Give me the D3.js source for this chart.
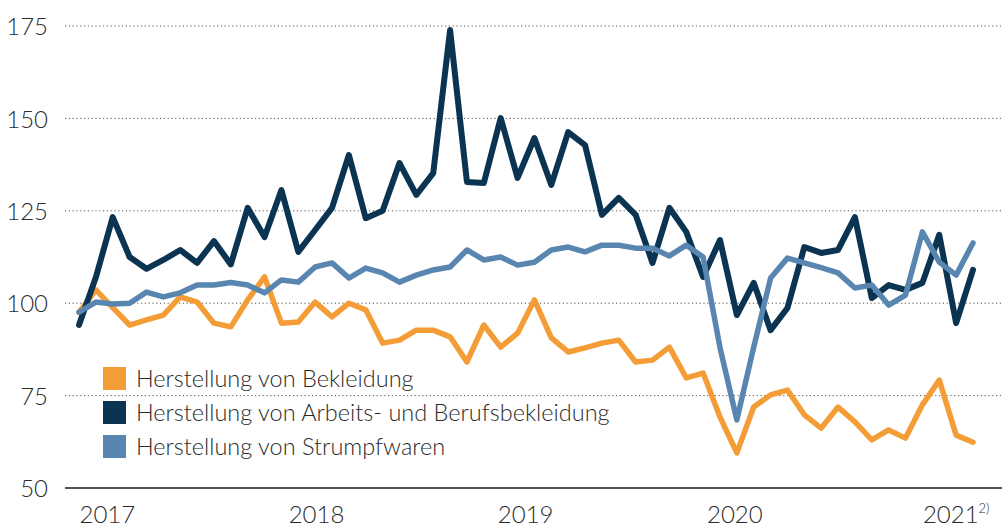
<!DOCTYPE html>
<html>
<head>
<meta charset="utf-8">
<script src="https://cdn.jsdelivr.net/npm/d3@7"></script>
<style>
  html, body { margin: 0; padding: 0; background: #fff; }
  svg { display: block; font-family: "Lato", "Open Sans", sans-serif; font-weight: 300; }
  .grid line { stroke: #555; stroke-width: 1; stroke-dasharray: 1.2 2.6; }
  .axis text { fill: #2b2b2b; font-size: 24px; font-family: "Lato", "Open Sans", sans-serif; font-weight: 300; }
  .legend text { fill: #2b2b2b; font-size: 23.5px; }
</style>
</head>
<body>
<svg id="chart" width="1002" height="527"></svg>
<script>
// monatliche Werte, Index (Jan 2017 = erster Punkt)
const bekleidung = [
  97.5, 103.6, 98.8, 94.1, 95.5, 96.8, 101.7, 100.3, 94.6, 93.6,
  100.9, 107.1, 94.6, 94.9, 100.3, 96.3, 100, 98.2, 89.2, 90,
  92.7, 92.7, 90.9, 84.1, 94.1, 88.1, 91.9, 100.9, 90.6, 86.8,
  87.9, 89.2, 90, 84.1, 84.6, 88.1, 79.8, 81.1, 69.2, 59.5,
  71.9, 75.2, 76.5, 69.8, 66.2, 71.9, 67.9, 63, 65.7, 63.5,
  72.5, 79.2, 64.3, 62.4
];
const arbeitsBeruf = [
  94.1, 107, 123.3, 112.5, 109.3, 111.7, 114.4, 110.9, 116.8, 110.5,
  125.8, 117.9, 130.6, 113.9, 119.8, 125.8, 140.1, 123, 125, 137.9,
  129.3, 135.2, 173.9, 132.8, 132.5, 150.1, 133.9, 144.7, 132, 146.3,
  142.8, 123.9, 128.5, 123.9, 110.9, 125.8, 119.3, 107.1, 117.1, 96.8,
  105.5, 92.7, 98.7, 115.2, 113.6, 114.4, 123.3, 101.4, 104.9, 103.6,
  105.5, 118.5, 94.6, 109
];
const strumpfwaren = [
  97.6, 100.3, 99.8, 100, 103, 101.7, 102.8, 104.9, 104.9, 105.6,
  104.9, 102.8, 106.3, 105.7, 109.8, 110.9, 106.8, 109.5, 108.2, 105.7,
  107.6, 109, 109.8, 114.4, 111.7, 112.5, 110.3, 111.1, 114.4, 115.2,
  113.9, 115.7, 115.7, 114.9, 114.9, 112.8, 115.7, 112.5, 88, 68.4,
  88.1, 106.8, 112.2, 110.9, 109.6, 108.2, 104.1, 104.9, 99.5, 102.2,
  119.3, 111.1, 107.6, 116.3
];

const yTicks = [50, 75, 100, 125, 150, 175];
const yearLabels = ["2017", "2018", "2019", "2020", "2021"];
const yearPos = [0, 12.4, 24.8, 37.2, 50]; // Monatsindex, an dem die Jahreszahl beginnt

const series = [
  { name: "Herstellung von Bekleidung", values: bekleidung, color: "#F49D37", width: 5.5 },
  { name: "Herstellung von Arbeits- und Berufsbekleidung", values: arbeitsBeruf, color: "#0B3452", width: 6 },
  { name: "Herstellung von Strumpfwaren", values: strumpfwaren, color: "#5886B0", width: 5.5 },
];

const svg = d3.select("#chart");
const left = 65, right = 1002;

const x = d3.scaleLinear().domain([0, bekleidung.length - 1]).range([79, 973]);
const y = d3.scaleLinear().domain([50, 175]).range([488, 26]);

// Gitterlinien (gepunktet)
svg.append("g")
  .attr("class", "grid")
  .selectAll("line")
  .data(yTicks.filter((d) => d > 50))
  .join("line")
  .attr("x1", left)
  .attr("x2", right)
  .attr("y1", (d) => y(d))
  .attr("y2", (d) => y(d));

// y-Achse nur Beschriftung
const yAxis = svg.append("g")
  .attr("class", "axis")
  .attr("transform", "translate(48,0)")
  .call(d3.axisLeft(y).tickValues(yTicks).tickSize(0).tickPadding(0));
yAxis.select(".domain").remove();
yAxis.selectAll("text").attr("dy", "0.36em");

// Grundlinie
svg.append("line")
  .attr("x1", left)
  .attr("x2", right)
  .attr("y1", y(50))
  .attr("y2", y(50))
  .attr("stroke", "#1a1a1a")
  .attr("stroke-width", 1.6);

// x-Achse: Jahre
const xAxis = svg.append("g")
  .attr("class", "axis")
  .attr("transform", `translate(0,${y(50)})`)
  .call(
    d3.axisBottom(x)
      .tickValues(yearPos)
      .tickFormat((d, i) => yearLabels[i])
      .tickSize(0)
      .tickPadding(0),
  );
xAxis.select(".domain").remove();
xAxis.selectAll("text")
  .attr("text-anchor", "start")
  .attr("dy", null)
  .attr("y", 35);
// Fußnote an 2021
xAxis.selectAll("text")
  .filter((d, i) => i === yearLabels.length - 1)
  .append("tspan")
  .attr("font-size", "13px")
  .attr("dy", "-10")
  .text("2)");

// Linien
const line = d3.line()
  .x((d, i) => x(i))
  .y((d) => y(d))
  .curve(d3.curveLinear);

svg.append("g")
  .selectAll("path")
  .data(series)
  .join("path")
  .attr("fill", "none")
  .attr("stroke", (d) => d.color)
  .attr("stroke-width", (d) => d.width)
  .attr("stroke-linejoin", "round")
  .attr("stroke-linecap", "round")
  .attr("d", (d) => line(d.values));

// Legende
const legend = svg.append("g")
  .attr("class", "legend")
  .attr("transform", "translate(103,367)");

const item = legend.selectAll("g")
  .data(series)
  .join("g")
  .attr("transform", (d, i) => `translate(0,${i * 34})`);

item.append("rect")
  .attr("width", 23)
  .attr("height", 23)
  .attr("fill", (d) => d.color);

item.append("text")
  .attr("x", 33)
  .attr("y", 12)
  .attr("dy", "0.35em")
  .text((d) => d.name);
</script>
</body>
</html>
